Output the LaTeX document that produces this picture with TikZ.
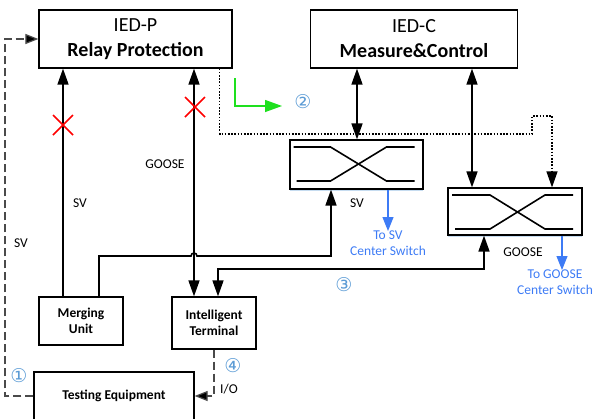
\documentclass[tikz,border=0pt]{standalone}
\usepackage{fontspec}
\setmainfont{Carlito}
\newfontfamily\numfont{DejaVu Sans}
\usepackage{xcolor}
\usepackage{tikz}
\usetikzlibrary{arrows.meta,calc,shadows}
\definecolor{feedblue}{HTML}{3D7BF5}
\definecolor{numblue}{HTML}{5B9BD5}
\definecolor{okgreen}{HTML}{1EE01E}
\definecolor{dashgray}{HTML}{4A4A4A}

\begin{document}
\begin{tikzpicture}[x=1pt,y=-1pt,
  >={Triangle[length=16pt,width=11pt]},
  box/.style={rectangle,draw,line width=1.3pt,align=center,inner sep=0pt,
              font=\fontsize{13.5}{15.5}\selectfont\bfseries},
  ied/.style={box,minimum height=58pt,font=\fontsize{20}{25}\selectfont},
  sw/.style={rectangle,draw,line width=1.2pt,fill=white,inner sep=0pt,
             drop shadow={shadow xshift=0pt,shadow yshift=-1.5pt,fill=numblue!35,opacity=1}},
  lbl/.style={font=\fontsize{13.5}{15.5}\selectfont,inner sep=0pt},
  note/.style={lbl,text=feedblue,align=center,font=\fontsize{13.5}{16}\selectfont},
  num/.style={text=numblue,inner sep=0pt,font=\numfont\fontsize{19}{19}\selectfont},
  link/.style={line width=1.6pt},
  xline/.style={line width=1.6pt},
  feed/.style={line width=1.1pt,feedblue,>={Triangle[length=14pt,width=11pt]}},
  dashline/.style={line width=1.2pt,dashgray,dash pattern=on 8pt off 4pt,
                   >={Triangle[length=13pt,width=10pt,fill=black]}},
  dotline/.style={line width=1.2pt,dash pattern=on 1.6pt off 1.6pt},
  cross/.style={line width=1.5pt,red}
]
\clip (0,0) rectangle (594,418);

% devices
\node[ied,minimum width=193pt] (iedp) at (135.5,39) {IED-P\\\textbf{Relay Protection}};
\node[ied,minimum width=207pt] (iedc) at (414,39) {IED-C\\\textbf{Measure\&Control}};
\node[box,minimum width=84pt,minimum height=48pt] (mu) at (81,321) {Merging\\Unit};
\node[box,minimum width=84pt,minimum height=52pt] (it) at (214,323) {Intelligent\\Terminal};
\node[box,minimum width=160pt,minimum height=48pt] (te) at (114,396) {Testing Equipment};

% process bus switches
\node[sw,minimum width=133pt,minimum height=49pt] (svsw) at (356.5,164.5) {};
\node[sw,minimum width=134pt,minimum height=47pt] (goosw) at (515,211.5) {};
\draw[xline] ($(svsw)+(-63,-17.5)$) -- ($(svsw)+(-26,-17.5)$) -- ($(svsw)+(30,16.5)$) -- ($(svsw)+(58,16.5)$);
\draw[xline] ($(svsw)+(-60,16.5)$) -- ($(svsw)+(-26,16.5)$) -- ($(svsw)+(30,-17.5)$) -- ($(svsw)+(58,-17.5)$);
\draw[xline] ($(goosw)+(-63,-16.5)$) -- ($(goosw)+(-25,-16.5)$) -- ($(goosw)+(30,17.5)$) -- ($(goosw)+(58,17.5)$);
\draw[xline] ($(goosw)+(-60,17.5)$) -- ($(goosw)+(-25,17.5)$) -- ($(goosw)+(30,-16.5)$) -- ($(goosw)+(58,-16.5)$);

% connection points
\coordinate (musv) at ([xshift=-18pt]mu.north);
\coordinate (mugo) at ([xshift=18pt]mu.north);
\coordinate (itgo) at ([xshift=-20pt]it.north);
\coordinate (itsw) at ([xshift=4pt]it.north);
\coordinate (svin) at ([xshift=-25.5pt]svsw.south);
\coordinate (goin) at ([xshift=-31pt]goosw.south);
\coordinate (cmsv) at ([xshift=-57pt]iedc.south);
\coordinate (cmgo) at ([xshift=58pt]iedc.south);
\coordinate (pdot) at ([xshift=-13pt]iedp.south east);
\coordinate (gdot) at ([xshift=37pt]goosw.north);
\coordinate (svout) at ([xshift=31.5pt]svsw.south);
\coordinate (goout) at ([xshift=47pt]goosw.south);

% point-to-point links
\draw[link,->] (musv) -- (musv |- iedp.south);
\draw[link,<->] (itgo) -- (itgo |- iedp.south);
\draw[cross] (53,115) -- (73,135) (53,135) -- (73,115);
\draw[cross] (185,97) -- (205,117) (185,117) -- (205,97);

% network links
\draw[link,->] (mugo) |- (191,256) arc[start angle=180,end angle=0,radius=3pt] -| (svin);
\draw[link,<->] (itsw) |- (300,269) -| (goin);
\draw[link,<->] (cmsv) -- (cmsv |- svsw.north);
\draw[link,<->] (cmgo) -- (cmgo |- goosw.north);
\draw[dotline,->] (pdot) |- (532,134) -- (532,116) -| (gdot);
\draw[line width=1.3pt,okgreen,-{Triangle[length=17pt,width=12pt]}] (235,78) |- (282,106);

% test loop
\draw[dashline,->] (te.west) -| (5,200) |- (iedp.west);
\draw[dashline,->] (it.south) |- (te.east);

% to center switches
\node[note,anchor=north] (tosv) at (388,231) {To SV\\Center Switch};
\node[note,anchor=north] (togo) at (555,270) {To GOOSE\\Center Switch};
\draw[feed,->] (svout) -- (tosv.north);
\draw[feed,->] (goout) -- (goout |- togo.north);

% labels
\node[lbl] (svtest) at (21,243) {SV};
\node[lbl] (svmu) at (80,203) {SV};
\node[lbl] (gsit) at (165,164) {GOOSE};
\node[lbl] (svnet) at (357,203) {SV};
\node[lbl] (gsnet) at (523,252) {GOOSE};
\node[lbl] (io) at (229,389) {I/O};
\node[num] (n1) at (19,376) {①};
\node[num] (n2) at (303,102) {②};
\node[num] (n3) at (344,285) {③};
\node[num] (n4) at (233,366) {④};
\end{tikzpicture}
\end{document}
